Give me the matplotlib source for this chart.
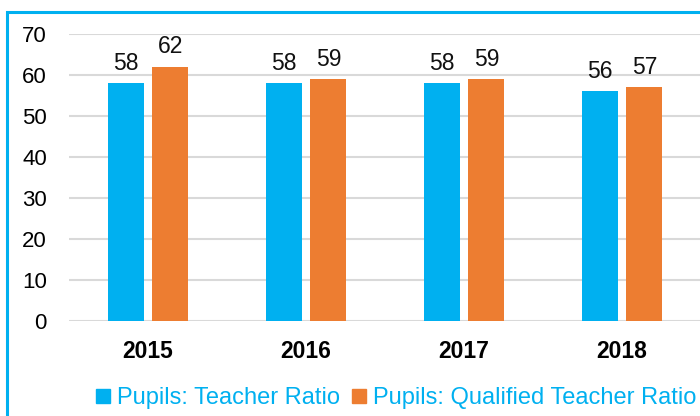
import matplotlib
matplotlib.use("Agg")
import matplotlib.pyplot as plt
from matplotlib.lines import Line2D
from matplotlib.patches import Rectangle
import numpy as np

plt.rcParams['font.family'] = ['Liberation Sans', 'DejaVu Sans']

years = ['2015', '2016', '2017', '2018']
ptr = [58, 58, 58, 56]
pqtr = [62, 59, 59, 57]
series_names = ['Pupils: Teacher Ratio', 'Pupils: Qualified Teacher Ratio']
yticks = [0, 10, 20, 30, 40, 50, 60, 70]

BLUE = '#00B0F0'
ORANGE = '#ED7D31'

W, H = 700, 416
fig = plt.figure(figsize=(W / 100, H / 100), dpi=100)
fig.patch.set_facecolor('white')

# outer frame (right and bottom edges fall outside the picture)
fig.patches.append(Rectangle((7 / W, -0.1), 1.2, 1 - 12 / H + 0.1, transform=fig.transFigure,
                             fill=False, edgecolor=BLUE, linewidth=2.2, zorder=0))

ax = fig.add_axes([69 / W, (H - 321) / H, 632 / W, 287 / H])
x = np.arange(len(years))
bw = 0.228
off = 0.142
b1 = ax.bar(x - off, ptr, bw, color=BLUE, zorder=3)
b2 = ax.bar(x + off, pqtr, bw, color=ORANGE, zorder=3)
for bars in (b1, b2):
    ax.bar_label(bars, padding=6, fontsize=16.5, color='#111111')

ax.set_xlim(-0.5, 3.5)
ax.set_ylim(0, 70)
ax.set_yticks(yticks)
ax.set_yticklabels([str(v) for v in yticks], fontsize=16)
ax.set_xticks(x)
ax.set_xticklabels(years, fontsize=16.5, fontweight='bold')
ax.tick_params(axis='both', length=0)
ax.tick_params(axis='y', pad=16)
ax.tick_params(axis='x', pad=14)
ax.yaxis.grid(True, color='#d9d9d9', linewidth=1.5, zorder=0)
ax.set_axisbelow(True)
for s in ax.spines.values():
    s.set_visible(False)
ax.patch.set_alpha(0)

handles = [Line2D([], [], marker='s', linestyle='', markersize=10.5, color=BLUE),
           Line2D([], [], marker='s', linestyle='', markersize=10.5, color=ORANGE)]
fig.legend(handles, series_names, loc='center', bbox_to_anchor=(396 / W, 1 - 398 / H),
           ncol=2, frameon=False, fontsize=17, labelcolor=BLUE, handlelength=0.6,
           handletextpad=0.3, columnspacing=0.5)

fig.savefig('out.png', dpi=100, facecolor='white')
